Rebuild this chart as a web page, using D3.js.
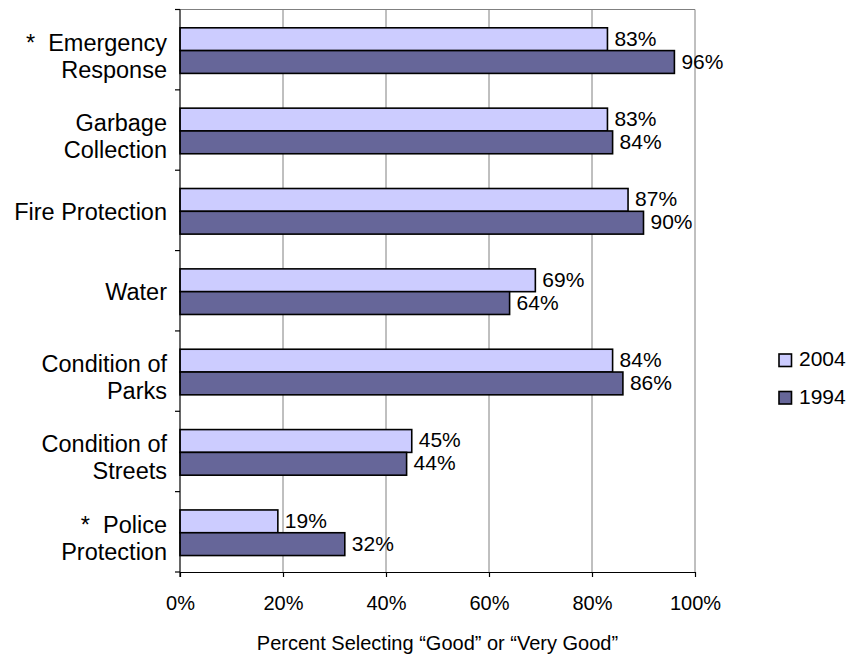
<!DOCTYPE html>
<html>
<head>
<meta charset="utf-8">
<script src="https://cdn.jsdelivr.net/npm/d3@7"></script>
<style>
  html, body { margin: 0; padding: 0; background: #fff; }
  svg { display: block; font-family: "Liberation Sans", Arial, sans-serif; }
</style>
</head>
<body>
<svg id="chart" width="861" height="655"></svg>
<script>
// Service ratings, share of residents answering "Good" or "Very Good"
const categories = [
  ["*\u00A0 Emergency", "Response"],
  ["Garbage", "Collection"],
  ["Fire Protection"],
  ["Water"],
  ["Condition of", "Parks"],
  ["Condition of", "Streets"],
  ["*\u00A0 Police", "Protection"]
];
const seriesNames = ["2004", "1994"];
const values2004 = [83, 83, 87, 69, 84, 45, 19];
const values1994 = [96, 84, 90, 64, 86, 44, 32];
const xTicks = [0, 20, 40, 60, 80, 100];
const axisTitle = "Percent Selecting \u201CGood\u201D or \u201CVery Good\u201D";
const colors = { "2004": "#CCCCFF", "1994": "#666699" };

const svg = d3.select("#chart");
const plot = { left: 180, right: 695, top: 9.5, bottom: 572 };

const catKeys = categories.map(c => c.join(" "));
const x = d3.scaleLinear().domain([0, 100]).range([plot.left, plot.right]);
const y0 = d3.scaleBand().domain(catKeys).range([plot.top, plot.bottom]).padding(0);
const y1 = d3.scaleBand().domain(seriesNames).range([18.3, 18.3 + 45.6]).padding(0);

const rows = catKeys.map((k, i) => ({
  key: k,
  lines: categories[i],
  vals: [
    { s: "2004", v: values2004[i] },
    { s: "1994", v: values1994[i] }
  ]
}));

// gridlines
svg.append("g")
  .selectAll("line")
  .data(xTicks.filter(t => t > 0))
  .join("line")
  .attr("x1", d => x(d)).attr("x2", d => x(d))
  .attr("y1", plot.top).attr("y2", plot.bottom)
  .attr("stroke", "#808080").attr("stroke-width", 1);

// top border
svg.append("line")
  .attr("x1", plot.left).attr("x2", plot.right)
  .attr("y1", plot.top).attr("y2", plot.top)
  .attr("stroke", "#808080").attr("stroke-width", 1);

// bars
const groups = svg.append("g").selectAll("g")
  .data(rows)
  .join("g")
  .attr("transform", d => `translate(0,${y0(d.key)})`);

groups.selectAll("rect")
  .data(d => d.vals)
  .join("rect")
  .attr("x", x(0))
  .attr("y", d => y1(d.s))
  .attr("width", d => x(d.v) - x(0))
  .attr("height", y1.bandwidth())
  .attr("fill", d => colors[d.s])
  .attr("stroke", "#000")
  .attr("stroke-width", 1.6);

groups.selectAll("text.val")
  .data(d => d.vals)
  .join("text")
  .attr("class", "val")
  .attr("x", d => x(d.v) + 7)
  .attr("y", d => y1(d.s) + y1.bandwidth() / 2 + 6.5)
  .attr("font-size", 21)
  .attr("fill", "#000")
  .text(d => d.v + "%");

// x axis
const xAxis = d3.axisBottom(x)
  .tickValues(xTicks)
  .tickFormat(d => d + "%")
  .tickSize(5)
  .tickSizeOuter(0)
  .tickPadding(19);
const gx = svg.append("g")
  .attr("transform", `translate(0,${plot.bottom})`)
  .call(xAxis);
gx.select(".domain").attr("stroke", "#000").attr("stroke-width", 1.2);
gx.selectAll(".tick line").attr("stroke", "#000").attr("stroke-width", 1.2);
gx.selectAll(".tick text")
  .attr("font-size", 20)
  .attr("font-family", "Liberation Sans, Arial, sans-serif")
  .attr("fill", "#000");

// y axis: line with ticks at category boundaries
const boundaries = catKeys.map(k => y0(k)).concat([plot.bottom]);
svg.append("line")
  .attr("x1", plot.left).attr("x2", plot.left)
  .attr("y1", plot.top).attr("y2", plot.bottom + 5)
  .attr("stroke", "#000").attr("stroke-width", 1.2);
svg.append("g").selectAll("line")
  .data(boundaries)
  .join("line")
  .attr("x1", plot.left - 5).attr("x2", plot.left)
  .attr("y1", d => d).attr("y2", d => d)
  .attr("stroke", "#000").attr("stroke-width", 1.2);

// category labels
const catLabels = svg.append("g").selectAll("text")
  .data(rows)
  .join("text")
  .attr("text-anchor", "end")
  .attr("font-size", 23.5)
  .attr("fill", "#000");
catLabels.each(function (d) {
  const c = y0(d.key) + y0.bandwidth() / 2;
  const t = d3.select(this);
  if (d.lines.length === 1) {
    t.append("tspan").attr("x", 167).attr("y", c + 9.5).text(d.lines[0]);
  } else {
    t.append("tspan").attr("x", 167).attr("y", c + 1).text(d.lines[0]);
    t.append("tspan").attr("x", 167).attr("y", c + 28).text(d.lines[1]);
  }
});

// axis title
svg.append("text")
  .attr("x", (plot.left + plot.right) / 2)
  .attr("y", 650)
  .attr("text-anchor", "middle")
  .attr("font-size", 20)
  .attr("fill", "#000")
  .text(axisTitle);

// legend
const legend = svg.append("g").selectAll("g")
  .data(seriesNames)
  .join("g")
  .attr("transform", (d, i) => `translate(779,${354 + i * 37.5})`);
legend.append("rect")
  .attr("width", 12.5).attr("height", 12.5)
  .attr("fill", d => colors[d])
  .attr("stroke", "#000").attr("stroke-width", 1.6);
legend.append("text")
  .attr("x", 20).attr("y", 12)
  .attr("font-size", 21)
  .attr("fill", "#000")
  .text(d => d);
</script>
</body>
</html>
